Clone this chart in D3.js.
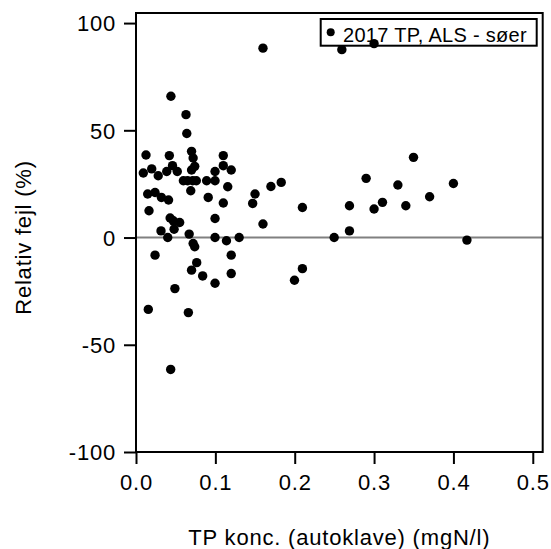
<!DOCTYPE html>
<html><head><meta charset="utf-8">
<script src="https://cdn.jsdelivr.net/npm/d3@7"></script>
<style>
html,body{margin:0;padding:0;background:#fff;}
text{font-family:"Liberation Sans",Arial,sans-serif;fill:#000;}
</style></head>
<body>
<svg id="chart" width="551" height="549"></svg>
<script>
const xValues = [0.160,0.044,0.063,0.064,0.0126,0.042,0.070,0.072,0.074,0.110,
  0.0092,0.0198,0.028,0.0387,0.046,0.052,0.0597,0.065,0.0714,0.076,
  0.089,0.0996,0.0996,0.110,0.120,0.069,0.091,0.1156,0.110,0.0147,
  0.024,0.032,0.041,0.0164,0.0996,0.043,0.047,0.055,0.048,0.0315,
  0.040,0.067,0.072,0.074,0.0996,0.114,0.130,0.160,0.147,0.150,
  0.170,0.183,0.024,0.120,0.0765,0.070,0.120,0.084,0.0996,0.049,
  0.0155,0.066,0.0437,0.2097,0.2497,0.269,0.269,0.290,0.300,0.3106,
  0.330,0.340,0.3497,0.370,0.400,0.2097,0.1997,0.417,0.2594,0.300,0.070];
const yValues = [88.3,65.9,57.3,48.5,38.5,38.2,40.2,37.1,33.2,38.2,
  30.1,32.0,28.8,30.8,33.5,30.8,26.5,26.5,26.5,26.5,
  26.5,26.5,30.8,33.5,31.5,21.8,18.7,23.7,16.1,20.3,
  21.0,18.7,17.5,12.5,8.9,9.1,7.8,7.0,3.9,3.1,
  0,1.6,-2.8,-4.3,0,-1.5,0,6.3,15.9,20.3,
  23.8,25.7,-8.2,-8.2,-11.7,-15.2,-16.8,-17.9,-21.3,-23.8,
  -33.5,-35.0,-61.5,14.0,0,3.1,14.8,27.6,13.3,16.4,
  24.5,14.8,37.4,19.0,25.2,-14.5,-19.9,-1.2,87.6,90.4,31.5];
const xTicks = [0, 0.1, 0.2, 0.3, 0.4, 0.5];
const yTicks = [-100, -50, 0, 50, 100];
const seriesName = "2017 TP, ALS - søer";
const xTitle = "TP konc. (autoklave) (mgN/l)";
const yTitle = "Relativ fejl (%)";

const svg = d3.select("#chart");
const L = 136, R = 542.7, T = 13, B = 452;
const x = d3.scaleLinear().domain([0, 0.5125]).range([L, R]);
const y = d3.scaleLinear().domain([-100, 104.7]).range([B, T]);

// zero line
svg.append("line").attr("x1", L).attr("x2", R).attr("y1", y(0)).attr("y2", y(0))
  .attr("stroke", "#808080").attr("stroke-width", 2);

// axes
const xAxis = svg.append("g").attr("transform", `translate(0,${B})`)
  .call(d3.axisBottom(x).tickValues(xTicks).tickFormat(d => d.toFixed(1)).tickSizeOuter(0).tickSizeInner(12).tickPadding(10));
const yAxis = svg.append("g").attr("transform", `translate(${L},0)`)
  .call(d3.axisLeft(y).tickValues(yTicks).tickFormat(d => String(d)).tickSizeOuter(0).tickSizeInner(12).tickPadding(8));
[xAxis, yAxis].forEach(g => {
  g.select(".domain").remove();
  g.selectAll(".tick line").attr("stroke", "#000").attr("stroke-width", 2);
  g.selectAll(".tick text").attr("font-size", 22).attr("letter-spacing", "0.8px")
    .attr("font-family", "Liberation Sans, Arial, sans-serif").attr("fill", "#000");
});
yAxis.selectAll(".tick text").attr("dy", "0.35em");
xAxis.selectAll(".tick text").attr("dy", "0.71em");

// frame
svg.append("rect").attr("x", L).attr("y", T).attr("width", R - L).attr("height", B - T)
  .attr("fill", "none").attr("stroke", "#000").attr("stroke-width", 2);

// legend (drawn below the points)
const lg = svg.append("g");
lg.append("rect").attr("x", 320.7).attr("y", 19).attr("width", 216).attr("height", 26.7)
  .attr("fill", "#fff").attr("stroke", "#000").attr("stroke-width", 2);
lg.append("circle").attr("cx", 330.7).attr("cy", 32.3).attr("r", 4).attr("fill", "#000");
lg.append("text").attr("x", 343).attr("y", 41.5).attr("font-size", 20).attr("letter-spacing", "0.3px").text(seriesName);

// points
svg.append("g").selectAll("circle").data(xValues.map((v, i) => [v, yValues[i]]))
  .join("circle").attr("cx", d => x(d[0])).attr("cy", d => y(d[1])).attr("r", 4.7).attr("fill", "#000");

// titles
svg.append("text").attr("x", (L + R) / 2).attr("y", 545).attr("text-anchor", "middle")
  .attr("font-size", 22).attr("letter-spacing", "0.8px").text(xTitle);
svg.append("text").attr("transform", `translate(31,${(T + B) / 2 + 5}) rotate(-90)`).attr("text-anchor", "middle")
  .attr("font-size", 22).attr("letter-spacing", "0.8px").text(yTitle);
</script>
</body></html>
